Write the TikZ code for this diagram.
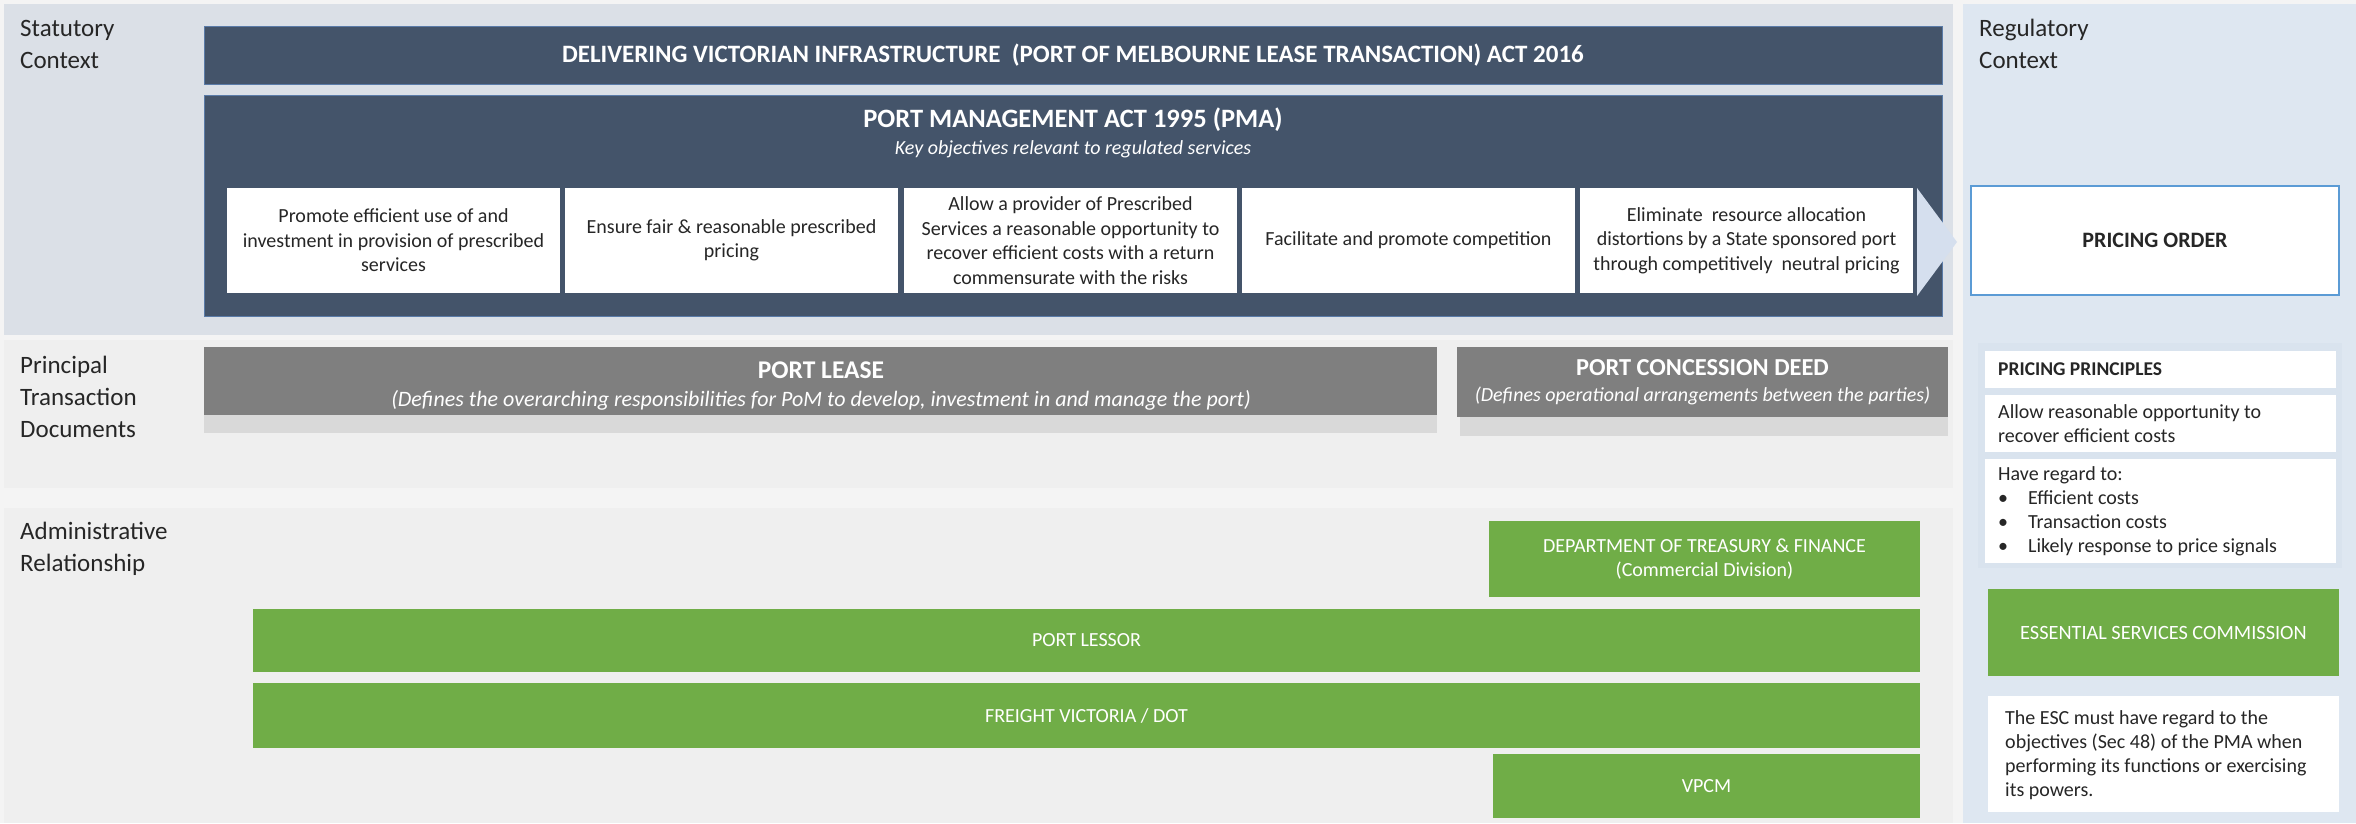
\documentclass[tikz,border=0pt]{standalone}
\usepackage{fontspec}
\setmainfont{Carlito}
\usetikzlibrary{calc}
\definecolor{pagebg}{HTML}{F4F4F4}
\definecolor{statbg}{HTML}{DBE0E7}
\definecolor{regbg}{HTML}{DEE7F1}
\definecolor{regpanel}{HTML}{D9E3EE}
\definecolor{docbg}{HTML}{EFEFEF}
\definecolor{slate}{HTML}{44546A}
\definecolor{slateedge}{HTML}{5A7BA8}
\definecolor{greybox}{HTML}{7F7F7F}
\definecolor{shadowgrey}{HTML}{D9D9D9}
\definecolor{escgreen}{HTML}{70AD47}
\definecolor{bluebord}{HTML}{5B9BD5}
\definecolor{chevron}{HTML}{D5DFEE}
\definecolor{ink}{HTML}{262626}
\newcommand\lblfont{\fontsize{25}{32}\selectfont}
\newcommand\objfont{\fontsize{20}{24.5}\selectfont}
\newcommand\ttlfont{\fontsize{25}{30}\selectfont\bfseries}
\newcommand\docfont{\fontsize{24.4}{28}\selectfont\bfseries}
\newcommand\subtfont{\fontsize{20}{24}\selectfont\itshape}
\newcommand\grnfont{\fontsize{20}{24}\selectfont}
\newcommand\rfont{\fontsize{20}{24}\selectfont}
\begin{document}
\begin{tikzpicture}[x=1pt,y=-1pt,
  box/.style={anchor=north west, inner sep=0pt, outer sep=0pt, align=center},
  darkbox/.style={box, fill=slate, draw=slateedge, line width=1pt, text=white},
  objbox/.style={box, fill=white, text=ink, font=\objfont, minimum width=333pt, minimum height=105pt},
  docbox/.style={box, fill=greybox, text=white},
  grnbox/.style={box, fill=escgreen, text=white, font=\grnfont},
  whitebox/.style={box, fill=white, text=ink},
  lbl/.style={anchor=west, inner sep=0pt, align=left, text=ink, font=\lblfont},
  ltext/.style={anchor=west, inner sep=0pt, align=left, text=ink, font=\rfont}
]
\useasboundingbox (0,0) rectangle (2356,823);
\fill[pagebg] (0,0) rectangle (2356,823);
% bands
\fill[statbg] (4,4) rectangle (1953,335);
\fill[regbg] (1963,4) rectangle (2356,823);
\fill[docbg] (4,340) rectangle (1953,488);
\fill[docbg] (4,508) rectangle (1953,823);
\fill[regpanel] (1978,343) rectangle (2342,568);

% band labels
\node[lbl] (lstat) at (20,44) {Statutory\\Context};
\node[lbl] (lreg) at (1979,44) {Regulatory\\Context};
\node[lbl] (lprin) at (20,397) {Principal\\Transaction\\Documents};
\node[lbl] (ladm) at (20,549) {Administrative\\Relationship};

% statutory context
\node[darkbox, minimum width=1738pt, minimum height=58pt, font=\ttlfont] (dvi) at (204,26)
  {DELIVERING VICTORIAN INFRASTRUCTURE \ (PORT OF MELBOURNE LEASE TRANSACTION) ACT 2016};
\node[darkbox, minimum width=1738pt, minimum height=221pt] (pma) at (204,95) {};
\node[anchor=center, inner sep=0pt, text=white, font=\fontsize{26.5}{30}\selectfont\bfseries] (pmat) at (1073,120) {PORT MANAGEMENT ACT 1995 (PMA)};
\node[anchor=center, inner sep=0pt, text=white, font=\subtfont] (pmas) at (1073,149) {Key objectives relevant to regulated services};

\node[objbox] (o1) at (227,188) {Promote efficient use of and\\investment in provision of prescribed\\services};
\node[objbox] (o2) at (565,188) {Ensure fair \& reasonable prescribed\\pricing};
\node[objbox] (o3) at (904,188) {Allow a provider of Prescribed\\Services a reasonable opportunity to\\recover efficient costs with a return\\commensurate with the risks};
\node[objbox] (o4) at (1242,188) {Facilitate and promote competition};
\node[objbox] (o5) at (1580,188) {Eliminate \ resource allocation\\distortions by a State sponsored port\\through competitively \ neutral pricing};

\node[box, fill=white, draw=bluebord, line width=1.5pt, minimum width=368pt, minimum height=109pt, text=ink,
  font=\fontsize{22}{26}\selectfont\bfseries] (po) at (1971,186) {PRICING ORDER};
\fill[chevron] ($(o5.north east)+(4,0)$) -- ($(o5.east)+(44,1.5)$) -- ($(o5.south east)+(4,3)$) -- cycle;

% principal transaction documents
\node[docbox, minimum width=1233pt, minimum height=68pt] (lease) at (204,347) {};
\node[anchor=center, inner sep=0pt, text=white, font=\fontsize{25.5}{30}\selectfont\bfseries] (leaset) at (821,370) {PORT LEASE};
\node[anchor=center, inner sep=0pt, text=white, font=\fontsize{22}{26}\selectfont\itshape] (leases) at (821,400) {(Defines the overarching responsibilities for PoM to develop, investment in and manage the port)};
\fill[shadowgrey] (lease.south west) rectangle ($(lease.south east)+(0,18)$);

\node[docbox, minimum width=491pt, minimum height=70pt] (deed) at (1457,347) {};
\node[anchor=center, inner sep=0pt, text=white, font=\docfont] (deedt) at (1702.5,368) {PORT CONCESSION DEED};
\node[anchor=center, inner sep=0pt, text=white, font=\subtfont] (deeds) at (1702.5,396) {(Defines operational arrangements between the parties)};
\fill[shadowgrey] ($(deed.south west)+(3,0)$) rectangle ($(deed.south east)+(0,19)$);

% administrative relationship
\node[grnbox, minimum width=431pt, minimum height=76pt] (dtf) at (1489,521) {DEPARTMENT OF TREASURY \& FINANCE\\(Commercial Division)};
\node[grnbox, minimum width=1667pt, minimum height=63pt] (lessor) at (253,609) {PORT LESSOR};
\node[grnbox, minimum width=1667pt, minimum height=65pt] (fv) at (253,683) {FREIGHT VICTORIA / DOT};
\node[grnbox, minimum width=427pt, minimum height=64pt] (vpcm) at (1493,754) {VPCM};

% regulatory context
\node[whitebox, minimum width=351pt, minimum height=37pt] (pp) at (1985,351) {};
\node[ltext, font=\fontsize{19.5}{24}\selectfont\bfseries] (ppt) at (1998,369.5) {PRICING PRINCIPLES};
\node[whitebox, minimum width=351pt, minimum height=57pt] (pp1) at (1985,395) {};
\node[ltext] (pp1t) at (1998,424) {Allow reasonable opportunity to\\recover efficient costs};
\node[whitebox, minimum width=351pt, minimum height=104pt] (pp2) at (1985,459) {};
\node[ltext] (pp2t) at (1998,511.5) {Have regard to:\\
  \makebox[30pt][l]{\textbullet}Efficient costs\\
  \makebox[30pt][l]{\textbullet}Transaction costs\\
  \makebox[30pt][l]{\textbullet}Likely response to price signals};
\node[grnbox, minimum width=351pt, minimum height=87pt, font=\fontsize{20.3}{24}\selectfont] (esc) at (1988,589) {ESSENTIAL SERVICES COMMISSION};
\node[whitebox, minimum width=351pt, minimum height=116pt] (note) at (1988,696) {};
\node[ltext] (notet) at (2005,755) {The ESC must have regard to the\\objectives (Sec 48) of the PMA when\\performing its functions or exercising\\its powers.};
\end{tikzpicture}
\end{document}
